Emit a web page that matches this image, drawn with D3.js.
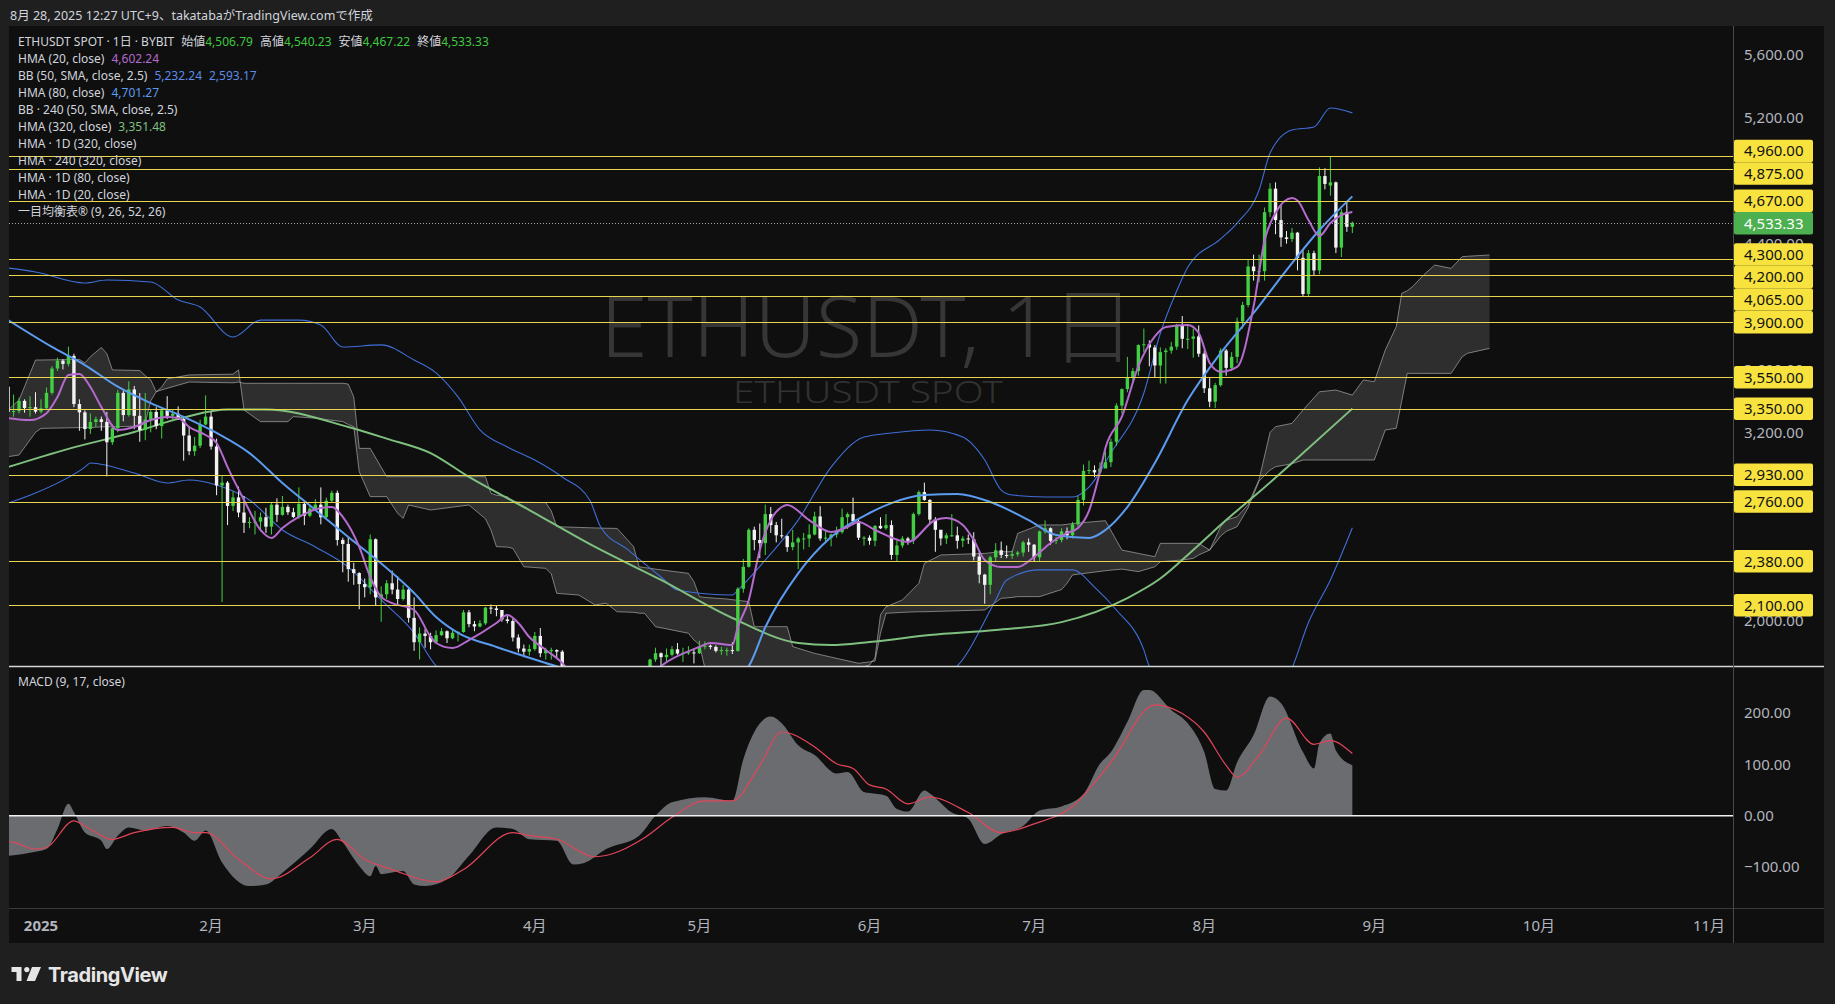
<!DOCTYPE html>
<html><head><meta charset="utf-8">
<script src="https://cdn.jsdelivr.net/npm/d3@7"></script>
<style>
html,body{margin:0;padding:0;background:#1f1f1f;}
svg{display:block;}
text{font-family:"Noto Sans","Noto Sans CJK JP",sans-serif;}
</style></head><body>
<svg id="c" width="1835" height="1004"></svg>
<script>
// ---------------- DATA ----------------
const ohlc = [
["2024-12-26",3490,3525,3300,3330],["2024-12-27",3330,3440,3300,3335],["2024-12-28",3335,3420,3320,3400],
["2024-12-29",3400,3410,3325,3355],["2024-12-30",3355,3430,3300,3360],["2024-12-31",3360,3455,3320,3332],
["2025-01-01",3332,3410,3320,3353],["2025-01-02",3353,3485,3350,3451],["2025-01-03",3451,3620,3440,3606],
["2025-01-04",3606,3675,3590,3656],["2025-01-05",3656,3665,3600,3635],["2025-01-06",3635,3745,3620,3686],
["2025-01-07",3686,3700,3360,3380],["2025-01-08",3380,3410,3210,3327],["2025-01-09",3327,3340,3155,3221],
["2025-01-10",3221,3320,3190,3266],["2025-01-11",3266,3300,3235,3283],["2025-01-12",3283,3300,3210,3266],
["2025-01-13",3266,3330,2920,3137],["2025-01-14",3137,3250,3120,3226],["2025-01-15",3226,3470,3200,3451],
["2025-01-16",3451,3470,3270,3310],["2025-01-17",3310,3525,3300,3473],["2025-01-18",3473,3495,3220,3305],
["2025-01-19",3305,3450,3140,3215],["2025-01-20",3215,3450,3150,3282],["2025-01-21",3282,3345,3200,3330],
["2025-01-22",3330,3360,3220,3240],["2025-01-23",3240,3350,3160,3340],["2025-01-24",3340,3430,3285,3305],
["2025-01-25",3305,3345,3270,3318],["2025-01-26",3318,3365,3280,3285],["2025-01-27",3285,3290,3020,3180],
["2025-01-28",3180,3240,3055,3080],["2025-01-29",3080,3170,3050,3115],["2025-01-30",3115,3280,3100,3250],
["2025-01-31",3250,3435,3245,3300],
["2025-02-01",3300,3330,3090,3110],["2025-02-02",3110,3160,2800,2862],["2025-02-03",2862,2925,2120,2880],
["2025-02-04",2880,2890,2610,2732],["2025-02-05",2732,2825,2700,2786],["2025-02-06",2786,2855,2660,2690],
["2025-02-07",2690,2795,2560,2625],["2025-02-08",2625,2660,2590,2630],["2025-02-09",2630,2700,2550,2632],
["2025-02-10",2632,2690,2570,2660],["2025-02-11",2660,2720,2560,2600],["2025-02-12",2600,2750,2550,2740],
["2025-02-13",2740,2780,2630,2675],["2025-02-14",2675,2795,2670,2726],["2025-02-15",2726,2740,2675,2692],
["2025-02-16",2692,2720,2655,2662],["2025-02-17",2662,2850,2650,2745],["2025-02-18",2745,2755,2610,2670],
["2025-02-19",2670,2730,2660,2715],["2025-02-20",2715,2775,2705,2740],["2025-02-21",2740,2850,2615,2660],
["2025-02-22",2660,2785,2655,2765],["2025-02-23",2765,2830,2755,2815],["2025-02-24",2815,2830,2480,2515],
["2025-02-25",2515,2530,2310,2490],["2025-02-26",2490,2530,2250,2330],["2025-02-27",2330,2370,2230,2305],
["2025-02-28",2305,2310,2075,2235],
["2025-03-01",2235,2270,2150,2215],["2025-03-02",2215,2550,2170,2520],["2025-03-03",2520,2525,2100,2150],
["2025-03-04",2150,2220,1995,2170],["2025-03-05",2170,2260,2140,2240],["2025-03-06",2240,2320,2170,2200],
["2025-03-07",2200,2285,2100,2140],["2025-03-08",2140,2230,2130,2200],["2025-03-09",2200,2210,1990,2020],
["2025-03-10",2020,2150,1810,1865],["2025-03-11",1865,1960,1755,1920],["2025-03-12",1920,1950,1830,1905],
["2025-03-13",1905,1925,1820,1865],["2025-03-14",1865,1940,1860,1910],["2025-03-15",1910,1955,1905,1935],
["2025-03-16",1935,1940,1860,1890],["2025-03-17",1890,1950,1885,1925],["2025-03-18",1925,1935,1870,1930],
["2025-03-19",1930,2070,1925,2055],["2025-03-20",2055,2070,1960,1980],["2025-03-21",1980,2000,1935,1965],
["2025-03-22",1965,2005,1960,1985],["2025-03-23",1985,2090,1975,2085],["2025-03-24",2085,2105,2045,2080],
["2025-03-25",2080,2100,2030,2070],["2025-03-26",2070,2070,1995,2010],["2025-03-27",2010,2035,1985,2000],
["2025-03-28",2000,2015,1870,1895],["2025-03-29",1895,1915,1800,1825],["2025-03-30",1825,1850,1770,1805],
["2025-03-31",1805,1850,1780,1822],
["2025-04-01",1822,1930,1810,1905],["2025-04-02",1905,1955,1770,1795],["2025-04-03",1795,1830,1755,1815],
["2025-04-04",1815,1830,1755,1815],["2025-04-05",1815,1820,1765,1805],["2025-04-06",1805,1815,1545,1580],
["2025-04-07",1580,1640,1385,1555],["2025-04-08",1555,1620,1450,1475],["2025-04-09",1475,1690,1385,1670],
["2025-04-10",1670,1670,1475,1520],["2025-04-11",1520,1575,1500,1565],["2025-04-12",1565,1665,1545,1645],
["2025-04-13",1645,1650,1565,1595],["2025-04-14",1595,1690,1590,1625],["2025-04-15",1625,1660,1580,1590],
["2025-04-16",1590,1615,1535,1578],["2025-04-17",1578,1610,1565,1585],["2025-04-18",1585,1600,1575,1590],
["2025-04-19",1590,1620,1580,1615],["2025-04-20",1615,1635,1560,1587],["2025-04-21",1587,1660,1570,1580],
["2025-04-22",1580,1760,1560,1755],["2025-04-23",1755,1830,1740,1795],["2025-04-24",1795,1800,1710,1770],
["2025-04-25",1770,1825,1735,1785],["2025-04-26",1785,1840,1775,1820],["2025-04-27",1820,1860,1785,1793],
["2025-04-28",1793,1830,1740,1798],["2025-04-29",1798,1840,1785,1800],["2025-04-30",1800,1825,1730,1795],
["2025-05-01",1795,1875,1790,1840],["2025-05-02",1840,1870,1820,1843],["2025-05-03",1843,1850,1820,1835],
["2025-05-04",1835,1845,1800,1810],["2025-05-05",1810,1835,1785,1815],["2025-05-06",1815,1830,1780,1815],
["2025-05-07",1815,1865,1790,1810],["2025-05-08",1810,2215,1805,2205],["2025-05-09",2205,2395,2180,2345],
["2025-05-10",2345,2590,2340,2580],["2025-05-11",2580,2600,2450,2515],["2025-05-12",2515,2620,2400,2495],
["2025-05-13",2495,2740,2420,2680],["2025-05-14",2680,2725,2560,2610],["2025-05-15",2610,2630,2500,2545],
["2025-05-16",2545,2650,2525,2540],["2025-05-17",2540,2545,2440,2470],["2025-05-18",2470,2580,2450,2500],
["2025-05-19",2500,2535,2330,2525],["2025-05-20",2525,2560,2455,2525],["2025-05-21",2525,2615,2470,2550],
["2025-05-22",2550,2695,2545,2665],["2025-05-23",2665,2730,2510,2525],["2025-05-24",2525,2580,2505,2530],
["2025-05-25",2530,2555,2475,2550],["2025-05-26",2550,2600,2530,2565],["2025-05-27",2565,2715,2555,2660],
["2025-05-28",2660,2690,2585,2680],["2025-05-29",2680,2785,2610,2635],["2025-05-30",2635,2655,2515,2530],
["2025-05-31",2530,2540,2480,2530],
["2025-06-01",2530,2545,2485,2510],["2025-06-02",2510,2610,2475,2605],["2025-06-03",2605,2660,2585,2590],
["2025-06-04",2590,2680,2580,2610],["2025-06-05",2610,2640,2390,2420],["2025-06-06",2420,2525,2380,2480],
["2025-06-07",2480,2540,2465,2525],["2025-06-08",2525,2535,2485,2510],["2025-06-09",2510,2690,2490,2680],
["2025-06-10",2680,2830,2670,2820],["2025-06-11",2820,2880,2765,2770],["2025-06-12",2770,2775,2620,2645],
["2025-06-13",2645,2660,2440,2580],["2025-06-14",2580,2580,2480,2525],["2025-06-15",2525,2560,2490,2545],
["2025-06-16",2545,2680,2535,2545],["2025-06-17",2545,2600,2460,2510],["2025-06-18",2510,2540,2470,2525],
["2025-06-19",2525,2550,2490,2520],["2025-06-20",2520,2565,2385,2410],["2025-06-21",2410,2440,2240,2295],
["2025-06-22",2295,2300,2110,2230],["2025-06-23",2230,2415,2170,2405],["2025-06-24",2405,2495,2380,2450],
["2025-06-25",2450,2505,2400,2420],["2025-06-26",2420,2480,2400,2415],["2025-06-27",2415,2450,2395,2425],
["2025-06-28",2425,2445,2410,2435],["2025-06-29",2435,2510,2410,2500],["2025-06-30",2500,2525,2440,2485],
["2025-07-01",2485,2490,2375,2405],["2025-07-02",2405,2575,2380,2570],["2025-07-03",2570,2640,2555,2590],
["2025-07-04",2590,2595,2485,2510],["2025-07-05",2510,2535,2490,2515],["2025-07-06",2515,2590,2500,2570],
["2025-07-07",2570,2595,2520,2545],["2025-07-08",2545,2630,2525,2615],["2025-07-09",2615,2795,2600,2770],
["2025-07-10",2770,2995,2735,2955],["2025-07-11",2955,3020,2935,2960],["2025-07-12",2960,2990,2915,2945],
["2025-07-13",2945,3010,2935,2970],["2025-07-14",2970,3080,2975,3010],["2025-07-15",3010,3160,2980,3140],
["2025-07-16",3140,3385,3115,3370],["2025-07-17",3370,3480,3320,3475],["2025-07-18",3475,3680,3455,3550],
["2025-07-19",3550,3610,3520,3590],["2025-07-20",3590,3760,3560,3755],["2025-07-21",3755,3860,3710,3760],
["2025-07-22",3760,3785,3620,3740],["2025-07-23",3740,3755,3550,3625],["2025-07-24",3625,3740,3510,3710],
["2025-07-25",3710,3735,3510,3720],["2025-07-26",3720,3775,3700,3745],["2025-07-27",3745,3890,3725,3880],
["2025-07-28",3880,3940,3735,3795],["2025-07-29",3795,3885,3730,3795],["2025-07-30",3795,3860,3675,3810],
["2025-07-31",3810,3880,3680,3700],
["2025-08-01",3700,3720,3450,3480],["2025-08-02",3480,3545,3360,3395],["2025-08-03",3395,3515,3355,3500],
["2025-08-04",3500,3735,3490,3720],["2025-08-05",3720,3730,3560,3610],["2025-08-06",3610,3710,3590,3680],
["2025-08-07",3680,3930,3640,3905],["2025-08-08",3905,4030,3860,4010],["2025-08-09",4010,4300,3995,4255],
["2025-08-10",4255,4330,4165,4225],["2025-08-11",4225,4330,4155,4225],["2025-08-12",4225,4630,4165,4600],
["2025-08-13",4600,4785,4570,4750],["2025-08-14",4750,4790,4460,4550],["2025-08-15",4550,4650,4380,4440],
["2025-08-16",4440,4480,4400,4430],["2025-08-17",4430,4500,4410,4470],["2025-08-18",4470,4475,4230,4310],
["2025-08-19",4310,4360,4065,4080],["2025-08-20",4080,4360,4060,4340],["2025-08-21",4340,4355,4200,4230],
["2025-08-22",4230,4885,4205,4830],["2025-08-23",4830,4880,4745,4780],["2025-08-24",4770,4955,4705,4790],
["2025-08-25",4790,4795,4340,4375],["2025-08-26",4375,4620,4315,4600],["2025-08-27",4600,4665,4475,4507],
["2025-08-28",4506.79,4540.23,4467.22,4533.33]
];

const hma20 = [
["2024-12-26",3291],["2024-12-30",3278],["2025-01-02",3322],["2025-01-04",3425],["2025-01-06",3565],["2025-01-08",3571],
["2025-01-10",3488],["2025-01-12",3361],["2025-01-15",3215],["2025-01-18",3234],["2025-01-21",3278],["2025-01-24",3298],
["2025-01-26",3291],["2025-01-28",3234],["2025-01-31",3183],["2025-02-02",3132],["2025-02-04",2979],["2025-02-07",2770],
["2025-02-10",2579],["2025-02-12",2528],["2025-02-14",2592],["2025-02-17",2662],["2025-02-21",2719],["2025-02-23",2725],
["2025-02-25",2662],["2025-02-28",2471],["2025-03-02",2280],["2025-03-04",2153],["2025-03-06",2114],["2025-03-10",2070],
["2025-03-13",1900],["2025-03-14",1860],["2025-03-17",1828],["2025-03-20",1879],["2025-03-25",1987],["2025-03-27",2038],
["2025-03-29",1987],["2025-03-31",1898],["2025-04-03",1816],["2025-04-06",1733],["2025-04-10",1560],["2025-04-16",1560],
["2025-04-21",1620],["2025-04-24",1714],["2025-05-01",1835],["2025-05-03",1860],["2025-05-07",1847],["2025-05-08",1962],
["2025-05-10",2134],["2025-05-12",2452],["2025-05-14",2642],["2025-05-16",2725],["2025-05-17",2738],["2025-05-21",2642],
["2025-05-25",2566],["2025-05-28",2598],["2025-05-30",2630],["2025-06-02",2579],["2025-06-08",2503],["2025-06-13",2642],
["2025-06-15",2655],["2025-06-18",2611],["2025-06-20",2515],["2025-06-22",2388],["2025-06-25",2343],["2025-06-28",2343],
["2025-07-01",2407],["2025-07-04",2496],["2025-07-07",2560],["2025-07-09",2592],["2025-07-11",2700],["2025-07-13",2950],
["2025-07-14",3100],["2025-07-17",3300],["2025-07-20",3620],["2025-07-23",3810],["2025-07-25",3870],["2025-07-29",3883],
["2025-07-31",3832],["2025-08-02",3641],["2025-08-04",3585],["2025-08-07",3616],["2025-08-10",4000],["2025-08-12",4420],
["2025-08-14",4595],["2025-08-17",4690],["2025-08-18",4675],["2025-08-20",4550],["2025-08-22",4449],["2025-08-24",4531],
["2025-08-26",4582],["2025-08-28",4602]
];

const hma80 = [
["2024-12-26",3914],["2025-01-03",3743],["2025-01-09",3628],["2025-01-15",3490],["2025-01-21",3386],["2025-01-27",3298],
["2025-02-02",3196],["2025-02-08",3068],["2025-02-14",2878],["2025-02-20",2706],["2025-02-26",2534],["2025-03-04",2366],
["2025-03-10",2178],["2025-03-14",2025],["2025-03-18",1924],["2025-03-25",1835],["2025-04-03",1733],["2025-04-11",1650],
["2025-04-20",1585],["2025-04-29",1575],["2025-05-07",1640],["2025-05-10",1714],["2025-05-13",1960],["2025-05-19",2303],
["2025-05-25",2534],["2025-06-01",2687],["2025-06-05",2750],["2025-06-11",2801],["2025-06-17",2808],["2025-06-23",2757],
["2025-06-30",2642],["2025-07-05",2547],["2025-07-11",2528],["2025-07-14",2579],["2025-07-18",2725],["2025-07-23",3005],
["2025-07-29",3405],["2025-08-04",3705],["2025-08-10",3959],["2025-08-16",4232],["2025-08-22",4487],["2025-08-28",4701]
];

const hma320 = [
["2024-12-26",2979],["2025-01-06",3095],["2025-01-18",3202],["2025-01-27",3295],["2025-02-04",3345],["2025-02-11",3345],
["2025-02-26",3234],["2025-03-05",3160],["2025-03-13",3068],["2025-03-20",2916],["2025-03-31",2706],["2025-04-12",2471],
["2025-04-24",2261],["2025-05-07",2019],["2025-05-19",1860],["2025-05-25",1847],["2025-06-01",1866],["2025-06-12",1911],
["2025-06-24",1943],["2025-07-06",1993],["2025-07-18",2146],["2025-07-24",2270],["2025-07-30",2452],["2025-08-05",2642],
["2025-08-11",2820],["2025-08-17",3005],["2025-08-28",3351]
];

const bbUpper = [
["2024-12-26",4245],["2024-12-31",4220],["2025-01-09",4150],["2025-01-13",4169],["2025-01-21",4156],["2025-01-26",4042],
["2025-01-30",3997],["2025-02-05",3806],["2025-02-10",3914],["2025-02-17",3914],["2025-02-21",3883],["2025-02-25",3743],
["2025-03-04",3756],["2025-03-10",3660],["2025-03-14",3578],["2025-03-18",3425],["2025-03-22",3215],["2025-03-27",3107],
["2025-04-01",3024],["2025-04-06",2916],["2025-04-11",2770],["2025-04-13",2598],["2025-04-18",2452],["2025-04-24",2280],
["2025-04-27",2197],["2025-05-07",2165],["2025-05-08",2197],["2025-05-13",2388],["2025-05-19",2642],["2025-05-25",2979],
["2025-05-31",3170],["2025-06-05",3196],["2025-06-12",3215],["2025-06-18",3170],["2025-06-22",3024],["2025-06-25",2833],
["2025-06-27",2801],["2025-07-03",2789],["2025-07-08",2789],["2025-07-11",2852],["2025-07-15",3068],["2025-07-21",3450],
["2025-07-24",3830],["2025-07-27",4100],["2025-07-29",4250],["2025-08-04",4430],["2025-08-07",4531],["2025-08-11",4741],
["2025-08-13",4976],["2025-08-17",5123],["2025-08-21",5142],["2025-08-24",5263],["2025-08-28",5232]
];

const bbLower = [
["2024-12-26",2750],["2024-12-31",2814],["2025-01-09",2979],["2025-01-10",3005],["2025-01-18",2941],["2025-01-24",2878],
["2025-01-28",2897],["2025-02-02",2865],["2025-02-08",2770],["2025-02-14",2579],["2025-02-20",2471],["2025-02-26",2343],
["2025-03-04",2134],["2025-03-10",1924],["2025-03-14",1714],["2025-03-25",1500],["2025-04-10",1330],["2025-05-01",1280],
["2025-05-20",1350],["2025-06-05",1500],["2025-06-17",1714],["2025-06-24",2134],["2025-06-26",2261],["2025-07-02",2325],
["2025-07-08",2325],["2025-07-12",2216],["2025-07-16",2070],["2025-07-21",1816],["2025-07-22",1714],["2025-08-01",1450],
["2025-08-10",1420],["2025-08-17",1700],["2025-08-20",1990],["2025-08-24",2261],["2025-08-28",2593]
];

// Ichimoku cloud: [date, leading span A, leading span B]
const ichimoku = [
["2024-12-26",3342,3045],["2024-12-28",3406,3056],["2024-12-31",3660,3200],["2025-01-01",3660,3225],["2025-01-08",3664,3230],
["2025-01-09",3641,3230],["2025-01-10",3681,3230],["2025-01-12",3740,3235],["2025-01-13",3700,3235],["2025-01-14",3597,3235],
["2025-01-19",3593,3240],["2025-01-20",3560,3260],["2025-01-21",3533,3400],["2025-01-22",3458,3458],["2025-01-23",3488,3470],
["2025-01-24",3540,3480],["2025-01-28",3565,3520],["2025-02-05",3570,3515],["2025-02-06",3597,3520],["2025-02-07",3342,3512],
["2025-02-10",3268,3512],["2025-02-15",3268,3512],["2025-02-16",3300,3512],["2025-02-20",3290,3512],["2025-02-25",3268,3512],
["2025-02-26",3250,3507],["2025-02-27",3236,3425],["2025-02-28",2950,3098],["2025-03-02",2791,3098],["2025-03-05",2791,2918],
["2025-03-07",2685,2918],["2025-03-08",2653,2918],["2025-03-09",2738,2918],["2025-03-13",2706,2918],["2025-03-20",2738,2918],
["2025-03-23",2650,2918],["2025-03-24",2579,2812],["2025-03-25",2473,2800],["2025-03-27",2470,2791],["2025-03-28",2462,2759],
["2025-03-30",2345,2755],["2025-04-03",2335,2753],["2025-04-04",2300,2700],["2025-04-05",2176,2600],["2025-04-09",2165,2595],
["2025-04-12",2102,2592],["2025-04-14",2113,2590],["2025-04-16",2059,2589],["2025-04-19",2055,2473],["2025-04-20",2050,2345],
["2025-04-21",2049,2340],["2025-04-23",1964,2330],["2025-04-29",1922,2303],["2025-04-30",1879,2250],["2025-05-01",1850,2155],
["2025-05-02",1700,2150],["2025-05-06",1650,2140],["2025-05-10",1640,2123],["2025-05-11",1640,1964],["2025-05-17",1630,1964],
["2025-05-18",1650,1837],["2025-05-22",1680,1794],["2025-05-30",1700,1731],["2025-06-01",1720,1740],["2025-06-02",1766,1745],
["2025-06-03",2040,1922],["2025-06-04",2090,2049],["2025-06-07",2134,2055],["2025-06-10",2240,2059],["2025-06-11",2367,2059],
["2025-06-14",2420,2062],["2025-06-22",2430,2070],["2025-06-25",2441,2144],["2025-06-27",2441,2150],["2025-06-28",2557,2155],
["2025-07-02",2611,2155],["2025-07-06",2611,2200],["2025-07-07",2615,2240],["2025-07-08",2620,2293],["2025-07-14",2638,2320],
["2025-07-17",2451,2330],["2025-07-20",2430,2314],["2025-07-23",2409,2345],["2025-07-24",2494,2377],["2025-07-28",2494,2388],
["2025-07-30",2494,2398],["2025-07-31",2494,2420],["2025-08-02",2451,2451],["2025-08-04",2600,2540],["2025-08-05",2640,2570],
["2025-08-07",2664,2600],["2025-08-09",2740,2720],["2025-08-11",2900,2890],["2025-08-13",3200,2960],["2025-08-14",3236,2981],
["2025-08-17",3257,3000],["2025-08-19",3342,3024],["2025-08-22",3458,3024],["2025-08-25",3469,3024],["2025-08-28",3437,3024],
["2025-08-30",3533,3024],["2025-09-01",3522,3024],["2025-09-03",3724,3215],["2025-09-05",3872,3226],["2025-09-06",4084,3400],
["2025-09-07",4100,3575],["2025-09-08",4127,3575],["2025-09-10",4201,3575],["2025-09-12",4264,3575],["2025-09-15",4243,3575],
["2025-09-17",4317,3680],["2025-09-18",4320,3703],["2025-09-22",4328,3734]
];

const macdLine = [
["2024-12-26",-78],["2024-12-27",-77],["2024-12-30",-72],["2025-01-02",-65],["2025-01-04",-26],["2025-01-06",23],["2025-01-07",7],
["2025-01-09",-33],["2025-01-12",-49],["2025-01-13",-65],["2025-01-15",-39],["2025-01-17",-23],["2025-01-20",-29],["2025-01-24",-20],
["2025-01-27",-33],["2025-01-29",-49],["2025-01-31",-29],["2025-02-03",-91],["2025-02-08",-137],["2025-02-11",-134],["2025-02-14",-111],
["2025-02-19",-65],["2025-02-23",-26],["2025-02-25",-52],["2025-02-28",-98],["2025-03-02",-118],["2025-03-03",-98],["2025-03-04",-114],
["2025-03-08",-108],["2025-03-10",-134],["2025-03-12",-137],["2025-03-16",-124],["2025-03-20",-78],["2025-03-25",-23],["2025-03-28",-26],
["2025-03-31",-46],["2025-04-05",-49],["2025-04-08",-95],["2025-04-10",-92],["2025-04-14",-65],["2025-04-20",-39],["2025-04-23",0],
["2025-04-26",26],["2025-05-02",36],["2025-05-07",29],["2025-05-09",110],["2025-05-11",163],["2025-05-14",193],["2025-05-16",180],
["2025-05-19",137],["2025-05-22",118],["2025-05-26",82],["2025-05-28",85],["2025-05-31",46],["2025-06-01",44],["2025-06-04",39],
["2025-06-06",13],["2025-06-08",8],["2025-06-11",49],["2025-06-12",43],["2025-06-16",6],["2025-06-19",-6],["2025-06-22",-55],
["2025-06-25",-36],["2025-06-29",-20],["2025-07-02",10],["2025-07-06",18],["2025-07-10",42],["2025-07-13",101],["2025-07-15",124],
["2025-07-18",183],["2025-07-21",245],["2025-07-22",245],["2025-07-26",206],["2025-07-29",180],["2025-08-01",124],["2025-08-03",52],
["2025-08-05",49],["2025-08-07",104],["2025-08-10",157],["2025-08-13",232],["2025-08-15",219],["2025-08-19",124],["2025-08-21",92],
["2025-08-22",141],["2025-08-24",160],["2025-08-25",127],["2025-08-28",98]
];

const signalLine = [
["2024-12-26",-50],["2024-12-27",-52],["2024-12-31",-65],["2025-01-02",-62],["2025-01-07",-10],["2025-01-09",-20],["2025-01-14",-46],
["2025-01-18",-33],["2025-01-25",-23],["2025-01-29",-33],["2025-01-31",-33],["2025-02-06",-85],["2025-02-12",-123],["2025-02-19",-82],
["2025-02-24",-46],["2025-03-01",-85],["2025-03-06",-105],["2025-03-14",-129],["2025-03-19",-105],["2025-03-28",-33],["2025-03-31",-39],
["2025-04-05",-46],["2025-04-12",-80],["2025-04-21",-43],["2025-04-26",-3],["2025-05-02",29],["2025-05-07",29],["2025-05-12",98],
["2025-05-16",163],["2025-05-22",134],["2025-05-26",101],["2025-05-29",92],["2025-06-01",60],["2025-06-04",52],["2025-06-08",23],
["2025-06-12",36],["2025-06-19",6],["2025-06-25",-33],["2025-07-01",-16],["2025-07-08",18],["2025-07-15",104],["2025-07-23",216],
["2025-07-28",199],["2025-08-01",163],["2025-08-05",98],["2025-08-07",75],["2025-08-11",118],["2025-08-16",190],["2025-08-21",139],
["2025-08-24",146],["2025-08-28",121]
];

const levels = [4960,4875,4670,4300,4200,4065,3900,3550,3350,2930,2760,2380,2100];
const lastPrice = 4533.33;
const priceTicks = [5600,5200,4800,4400,4000,3600,3200,2800,2400,2000];
const macdTicks = [200,100,0,-100];
const monthTicks = [["2025-01-01","2025"],["2025-02-01","2月"],["2025-03-01","3月"],["2025-04-01","4月"],["2025-05-01","5月"],
  ["2025-06-01","6月"],["2025-07-01","7月"],["2025-08-01","8月"],["2025-09-01","9月"],["2025-10-01","10月"],["2025-11-01","11月"]];

const titleText = "8月 28, 2025 12:27 UTC+9、takatabaがTradingView.comで作成";
const symbolLabel = "ETHUSDT SPOT · 1日 · BYBIT";
const ohlcLabels = [["始値","4,506.79"],["高値","4,540.23"],["安値","4,467.22"],["終値","4,533.33"]];
const legendRows = [
  ["HMA (20, close)", ["4,602.24"], "hma20"],
  ["BB (50, SMA, close, 2.5)", ["5,232.24","2,593.17"], "bb"],
  ["HMA (80, close)", ["4,701.27"], "hma80"],
  ["BB · 240 (50, SMA, close, 2.5)", [], null],
  ["HMA (320, close)", ["3,351.48"], "hma320"],
  ["HMA · 1D (320, close)", [], null],
  ["HMA · 240 (320, close)", [], null],
  ["HMA · 1D (80, close)", [], null],
  ["HMA · 1D (20, close)", [], null],
  ["一目均衡表® (9, 26, 52, 26)", [], null]
];
const macdTitle = "MACD (9, 17, close)";
const watermark = ["ETHUSDT, 1日", "ETHUSDT SPOT"];

// ---------------- STYLE ----------------
const C = {
  page:"#1f1f1f", bg:"#0f0f0f", up:"#43cf43", down:"#f2f2f2",
  hma20:"#b56bce", hma80:"#5b9cf0", hma320:"#7fbf7f", bb:"#3f6fd8",
  cloud:"rgba(255,255,255,0.13)", cloudEdge:"rgba(190,190,190,0.6)",
  level:"#e9d64c", levelBox:"#f7e23e", lastBox:"#4caf50",
  axisText:"#b2b5be", legend:"#d1d4dc", valGreen:"#3fc93f", valBB:"#5b8be6",
  macdFill:"#6a6c70", signal:"#e2455a"
};

// ---------------- LAYOUT ----------------
const W=1835, H=1004;
const L=9, R=1733, AX=1824, T=26, MB=666, MT=667, MBOT=908, TB=943;
const parse = d3.utcParse("%Y-%m-%d");
const x = d3.scaleUtc().domain([parse("2025-01-01"), parse("2025-11-01")]).range([41, 1709]);
const y = d3.scaleLinear().domain([2000, 5600]).range([621, 55]);
const ym = d3.scaleLinear().domain([-100, 200]).range([867, 713]);

const svg = d3.select("#c");
svg.append("rect").attr("width",W).attr("height",H).attr("fill",C.page);
svg.append("rect").attr("x",L).attr("y",T).attr("width",AX-L).attr("height",TB-T).attr("fill",C.bg);

const defs = svg.append("defs");
defs.append("clipPath").attr("id","cm").append("rect").attr("x",L).attr("y",T).attr("width",R-L).attr("height",MB-T);
defs.append("clipPath").attr("id","cd").append("rect").attr("x",L).attr("y",MT).attr("width",R-L).attr("height",MBOT-MT);

// title
svg.append("text").attr("x",10).attr("y",19.5).attr("font-size",12.5).attr("fill",C.legend).text(titleText);

// ---------- main pane ----------
const gm = svg.append("g").attr("clip-path","url(#cm)");
gm.append("text").attr("x",868).attr("y",357).attr("text-anchor","middle").attr("font-size",84)
  .attr("font-weight",300).attr("fill","#363636").attr("textLength",535).attr("lengthAdjust","spacingAndGlyphs").text(watermark[0]);
gm.append("text").attr("x",868).attr("y",403).attr("text-anchor","middle").attr("font-size",32)
  .attr("font-weight",300).attr("fill","#313131").attr("textLength",270).attr("lengthAdjust","spacingAndGlyphs").text(watermark[1]);

const X = d => x(parse(d[0]));
// cloud
gm.append("path").datum(ichimoku)
  .attr("d", d3.area().x(X).y0(d=>y(d[2])).y1(d=>y(d[1])))
  .attr("fill", C.cloud);
[1,2].forEach(k => gm.append("path").datum(ichimoku)
  .attr("d", d3.line().x(X).y(d=>y(d[k])))
  .attr("fill","none").attr("stroke",C.cloudEdge).attr("stroke-width",1));

const smooth = d3.line().x(X).y(d=>y(d[1])).curve(d3.curveMonotoneX);
gm.append("path").datum(bbUpper).attr("d",smooth).attr("fill","none").attr("stroke",C.bb).attr("stroke-width",1.1);
gm.append("path").datum(bbLower).attr("d",smooth).attr("fill","none").attr("stroke",C.bb).attr("stroke-width",1.1);
gm.append("path").datum(hma320).attr("d",smooth).attr("fill","none").attr("stroke",C.hma320).attr("stroke-width",2);

// candles
const cg = gm.append("g");
ohlc.forEach(r => {
  const cx = X(r), up = r[4] >= r[1], col = up ? C.up : C.down;
  cg.append("line").attr("x1",cx).attr("x2",cx).attr("y1",y(r[2])).attr("y2",y(r[3])).attr("stroke",col).attr("stroke-width",1);
  const y0 = y(Math.max(r[1],r[4])), y1 = y(Math.min(r[1],r[4]));
  cg.append("rect").attr("x",cx-1.7).attr("width",3.4).attr("y",y0).attr("height",Math.max(1,y1-y0)).attr("fill",col);
});

gm.append("path").datum(hma80).attr("d",smooth).attr("fill","none").attr("stroke",C.hma80).attr("stroke-width",2);
gm.append("path").datum(hma20).attr("d",smooth).attr("fill","none").attr("stroke",C.hma20).attr("stroke-width",2);

// horizontal levels
levels.forEach(v => gm.append("line").attr("x1",L).attr("x2",R).attr("y1",Math.round(y(v))+0.5).attr("y2",Math.round(y(v))+0.5)
  .attr("stroke",C.level).attr("stroke-width",1));
gm.append("line").attr("x1",L).attr("x2",R).attr("y1",Math.round(y(lastPrice))+0.5).attr("y2",Math.round(y(lastPrice))+0.5)
  .attr("stroke","#a8a8a8").attr("stroke-width",1).attr("stroke-dasharray","1,2");

// legend
const lx = 18, ly0 = 46, lstep = 17;
const t0 = svg.append("text").attr("x",lx).attr("y",ly0).attr("font-size",12).attr("fill",C.legend);
t0.append("tspan").text(symbolLabel);
ohlcLabels.forEach(p => { t0.append("tspan").attr("dx",7).text(p[0]); t0.append("tspan").attr("fill",C.valGreen).text(p[1]); });
const valColor = {hma20:C.hma20, bb:C.valBB, hma80:C.hma80, hma320:C.hma320};
legendRows.forEach((row,i) => {
  const t = svg.append("text").attr("x",lx).attr("y",ly0+(i+1)*lstep).attr("font-size",12).attr("fill",C.legend);
  t.append("tspan").text(row[0]);
  row[1].forEach(v => t.append("tspan").attr("dx",7).attr("fill",valColor[row[2]]).text(v));
});

// ---------- MACD pane ----------
const gd = svg.append("g").attr("clip-path","url(#cd)");
gd.append("path").datum(macdLine)
  .attr("d", d3.area().x(X).y0(ym(0)).y1(d=>ym(d[1])).curve(d3.curveMonotoneX)).attr("fill",C.macdFill);
gd.append("path").datum(signalLine)
  .attr("d", d3.line().x(X).y(d=>ym(d[1])).curve(d3.curveMonotoneX)).attr("fill","none").attr("stroke",C.signal).attr("stroke-width",1.2);
svg.append("line").attr("x1",L).attr("x2",R).attr("y1",ym(0)).attr("y2",ym(0)).attr("stroke","#f0f0f0").attr("stroke-width",1.5);
svg.append("text").attr("x",18).attr("y",686).attr("font-size",12).attr("fill",C.legend).text(macdTitle);

// ---------- frame lines ----------
svg.append("line").attr("x1",L).attr("x2",AX).attr("y1",666.5).attr("y2",666.5).attr("stroke","#d6d6d6").attr("stroke-width",1.5);
svg.append("line").attr("x1",L).attr("x2",AX).attr("y1",908.5).attr("y2",908.5).attr("stroke","#3c3c3c").attr("stroke-width",1);
svg.append("line").attr("x1",R+0.5).attr("x2",R+0.5).attr("y1",T).attr("y2",TB).attr("stroke","#4a4a4a").attr("stroke-width",1);

// ---------- price axis ----------
const BH = 22.5;
let labs = levels.map(v => ({v, yc:y(v), last:false})).concat([{v:lastPrice, yc:y(lastPrice), last:true}]);
labs.sort((a,b)=>a.yc-b.yc);
for (let it=0; it<200; it++) {
  let moved=false;
  for (let i=1;i<labs.length;i++) {
    const ov = labs[i-1].yc + BH - labs[i].yc;
    if (ov > 0.01) { labs[i-1].yc -= ov/2; labs[i].yc += ov/2; moved=true; }
  }
  if(!moved) break;
}
const ga = svg.append("g");
// tick labels: skip the ones entirely hidden behind a label box
priceTicks.forEach(v => {
  const ty = y(v);
  const hidden = labs.some(l => Math.abs(l.yc - ty) < BH/2 - 4);
  if (hidden) return;
  ga.append("text").attr("x",1744).attr("y",ty+5.3).attr("font-size",15).attr("fill",C.axisText).text(d3.format(",.2f")(v));
});
macdTicks.forEach(v => ga.append("text").attr("x",1744).attr("y",ym(v)+5.3).attr("font-size",15).attr("fill",C.axisText)
  .text(d3.format(",.2f")(v).replace("-","−")));
labs.forEach(l => {
  ga.append("rect").attr("x",1734).attr("y",l.yc-BH/2).attr("width",79).attr("height",BH).attr("rx",2)
    .attr("fill", l.last ? C.lastBox : C.levelBox);
  ga.append("text").attr("x",1744).attr("y",l.yc+5.3).attr("font-size",15).attr("fill", l.last ? "#ffffff" : "#111111")
    .text(d3.format(",.2f")(l.v));
});

// ---------- time axis ----------
monthTicks.forEach(m => svg.append("text").attr("x",x(parse(m[0]))).attr("y",931).attr("text-anchor","middle")
  .attr("font-size",15).attr("font-weight", m[1]==="2025" ? 700 : 400).attr("fill",C.axisText).text(m[1]));

// ---------- logo ----------
const lg = svg.append("g").attr("transform","translate(11.5,967)").attr("fill","#e6e6e6");
lg.append("path").attr("d","M0 0 H10 V14 H5 V5 H0 Z");
lg.append("circle").attr("cx",15.3).attr("cy",2.6).attr("r",2.6);
lg.append("path").attr("d","M20.5 0 H29.5 L23.5 14 H15 Z");
svg.append("text").attr("x",48).attr("y",982).attr("font-size",20).attr("font-weight",700)
  .style("font-family","Inter, Roboto, sans-serif").attr("letter-spacing",-0.4).attr("fill","#e6e6e6").text("TradingView");
</script></body></html>
